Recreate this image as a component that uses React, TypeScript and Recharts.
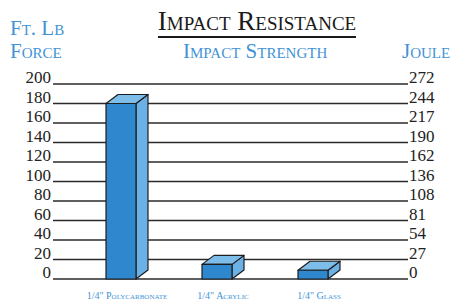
import { ComposedChart, Bar, Line, XAxis, YAxis, CartesianGrid } from "recharts";

const materials = ['1/4" Polycarbonate', '1/4" Acrylic', '1/4" Glass'];
const ftLbForce = [180, 15, 9];
const leftTicks = [0, 20, 40, 60, 80, 100, 120, 140, 160, 180, 200];
const jouleLabels = ["0", "27", "54", "81", "108", "136", "162", "190", "217", "244", "272"];

const data = materials.map((name, i) => ({ name, force: ftLbForce[i] }));

const BLUE_TEXT = "#3f93d6";
const SERIF = '"Liberation Serif", "Times New Roman", serif';

function Box3D(props: any) {
  const { x, y, width, height } = props;
  const dx = 12;
  const dy = 9;
  const top = `${x},${y} ${x + dx},${y - dy} ${x + width + dx},${y - dy} ${x + width},${y}`;
  const side = `${x + width},${y} ${x + width + dx},${y - dy} ${x + width + dx},${y + height - dy} ${x + width},${y + height}`;
  return (
    <g stroke="#1e1e1e" strokeWidth={1.2} strokeLinejoin="round">
      <polygon points={side} fill="#6cb1e5" />
      <polygon points={top} fill="#7dbde9" />
      <rect x={x} y={y} width={width} height={height} fill="#2f87cd" />
    </g>
  );
}

const renderLeftTick = (p: any) => (
  <text key={`l-${p.payload.value}`} x={p.x} y={p.y} dy={-1} textAnchor="end" fontFamily={SERIF} fontSize={17} fill="#222">
    {p.payload.value}
  </text>
);

const renderRightTick = (p: any) => (
  <text key={`r-${p.payload.value}`} x={p.x} y={p.y} dy={-1} textAnchor="start" fontFamily={SERIF} fontSize={17} fill="#222">
    {jouleLabels[leftTicks.indexOf(p.payload.value)]}
  </text>
);

const renderMaterialTick = (p: any) => (
  <text
    key={`m-${p.payload.value}`}
    x={p.x + 6}
    y={p.y}
    dy={20}
    textAnchor="middle"
    fontFamily={SERIF}
    fontSize={10}
    fill={BLUE_TEXT}
    style={{ fontVariant: "small-caps" }}
  >
    {p.payload.value}
  </text>
);

const label: React.CSSProperties = {
  position: "absolute",
  fontFamily: SERIF,
  fontVariant: "small-caps",
  color: BLUE_TEXT,
  fontSize: 21,
  lineHeight: "22px",
  whiteSpace: "nowrap",
};

export default function App() {
  return (
    <div style={{ position: "relative", width: 450, height: 302, background: "#fff", overflow: "hidden" }}>
      <style>{`body{margin:0}`}</style>
      <div
        style={{
          position: "absolute",
          left: 0,
          width: 514,
          top: 6,
          textAlign: "center",
          fontFamily: SERIF,
          fontVariant: "small-caps",
          fontSize: 27,
          lineHeight: "30px",
          color: "#1a1a1a",
        }}
      >
        <span style={{ borderBottom: "2px solid #1a1a1a" }}>Impact Resistance</span>
      </div>
      <div style={{ ...label, left: 10, top: 17 }}>Ft. Lb</div>
      <div style={{ ...label, left: 10, top: 40 }}>Force</div>
      <div style={{ ...label, left: 183, top: 40 }}>Impact Strength</div>
      <div style={{ ...label, left: 402, top: 40 }}>Joule</div>
      <div style={{ position: "absolute", left: 0, top: 0 }}>
        <ComposedChart width={450} height={302} data={data} margin={{ top: 84, right: 0, bottom: 0, left: 0 }}>
          <CartesianGrid yAxisId="left" vertical={false} stroke="#2a2a2a" strokeWidth={1.3} />
          <XAxis
            dataKey="name"
            axisLine={false}
            tickLine={false}
            tickSize={0}
            tickMargin={0}
            height={23}
            padding={{ left: 20, right: 47 }}
            interval={0}
            tick={renderMaterialTick}
          />
          <YAxis
            yAxisId="left"
            orientation="left"
            domain={[0, 200]}
            ticks={leftTicks}
            width={53}
            axisLine={false}
            tickLine={false}
            tickSize={0}
            tickMargin={2}
            interval={0}
            tick={renderLeftTick}
          />
          <YAxis
            yAxisId="right"
            orientation="right"
            domain={[0, 200]}
            ticks={leftTicks}
            width={42}
            axisLine={false}
            tickLine={false}
            tickSize={0}
            tickMargin={1}
            interval={0}
            tick={renderRightTick}
          />
          <Bar yAxisId="left" dataKey="force" barSize={30} shape={<Box3D />} isAnimationActive={false} />
          <Line
            yAxisId="right"
            dataKey="force"
            stroke="none"
            dot={false}
            activeDot={false}
            legendType="none"
            isAnimationActive={false}
          />
        </ComposedChart>
      </div>
    </div>
  );
}
